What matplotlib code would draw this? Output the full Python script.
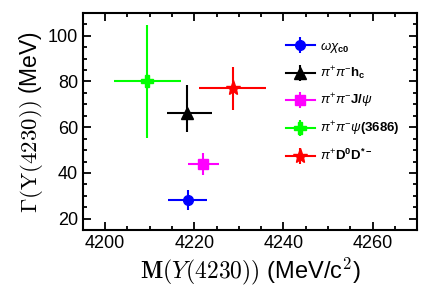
import matplotlib
matplotlib.use("Agg")
import matplotlib.pyplot as plt
from matplotlib.ticker import MultipleLocator
from matplotlib.lines import Line2D

plt.rcParams['font.family'] = ['Liberation Sans', 'DejaVu Sans']
plt.rcParams['mathtext.fontset'] = 'custom'
plt.rcParams['mathtext.rm'] = 'Liberation Sans'
plt.rcParams['mathtext.it'] = 'Liberation Sans:italic'
plt.rcParams['mathtext.bf'] = 'Liberation Sans:bold'

# Data
channels = [r'$\omega\chi_{\mathbf{c0}}$', r'$\pi^{+}\pi^{-}\mathbf{h_c}$',
            r'$\pi^{+}\pi^{-}\mathbf{J/}\psi$', r'$\pi^{+}\pi^{-}\psi\mathbf{(3686)}$',
            r'$\pi^{+}\mathbf{D^{0}D^{*-}}$']
mass = [4218.5, 4218.4, 4222.0, 4209.5, 4228.6]
mass_err_lo = [4.3, 4.5, 3.5, 7.6, 7.5]
mass_err_hi = [4.3, 5.5, 3.5, 7.6, 7.5]
width = [28.2, 66.0, 44.1, 80.1, 77.0]
width_err_lo = [4.4, 8.3, 4.8, 24.6, 9.3]
width_err_hi = [4.4, 12.3, 4.8, 24.6, 9.3]
colors = ['#0000ff', '#000000', '#ff00ff', '#00ff00', '#ff0000']
markers = ['o', '^', 's', 'P', '*']
msizes = [7, 8, 6.5, 9, 11]

fig = plt.figure(figsize=(4.48, 3.0), dpi=100)
ax = fig.add_axes([0.185, 0.233, 0.746, 0.724])

handles = []
for i in range(len(channels)):
    ax.errorbar([mass[i]], [width[i]],
                xerr=[[mass_err_lo[i]], [mass_err_hi[i]]],
                yerr=[[width_err_lo[i]], [width_err_hi[i]]],
                fmt=markers[i], color=colors[i], ms=msizes[i], lw=1.5,
                capsize=0)
    h = (Line2D([], [], color=colors[i], lw=1.5),
         Line2D([], [], color=colors[i], marker='|', ms=11, mew=1.5, ls='none'),
         Line2D([], [], color=colors[i], marker=markers[i], ms=msizes[i], ls='none'))
    handles.append(h)

ax.set_xlim(4195, 4270)
ax.set_ylim(15, 110)
ax.xaxis.set_major_locator(MultipleLocator(20))
ax.xaxis.set_minor_locator(MultipleLocator(5))
ax.yaxis.set_major_locator(MultipleLocator(20))
ax.yaxis.set_minor_locator(MultipleLocator(5))
ax.tick_params(which='both', direction='in', top=True, right=True, width=1.3,
               labelsize=13)
ax.tick_params(which='major', length=6)
ax.tick_params(which='minor', length=3)
for s in ax.spines.values():
    s.set_linewidth(1.5)

xl = ax.set_xlabel(r'$\mathbf{M}(Y(4230))$ (MeV/c$^2$)', fontsize=17, labelpad=3)
xl.set_math_fontfamily('cm')
yl = ax.set_ylabel(r'$\Gamma(\mathrm{Y}(4230))$ (MeV)', fontsize=16.5, labelpad=2)
yl.set_math_fontfamily('cm')

leg = ax.legend(handles, channels, loc='upper right', bbox_to_anchor=(0.985, 0.93),
                frameon=False, fontsize=9.5, handlelength=2.2, labelspacing=0.75,
                handletextpad=0.45)

fig.savefig('out.png', dpi=100)
